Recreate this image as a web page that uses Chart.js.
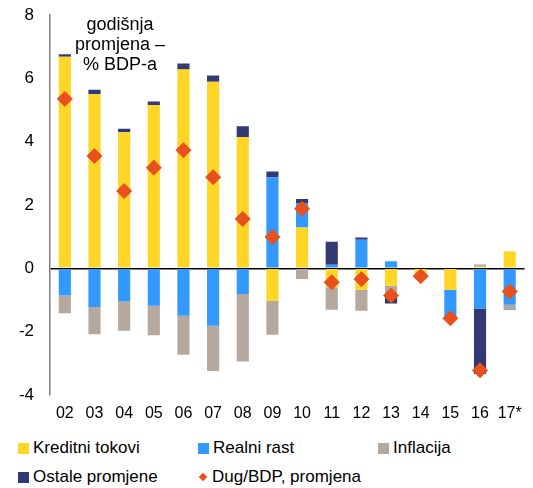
<!DOCTYPE html>
<html>
<head>
<meta charset="utf-8">
<script src="https://cdn.jsdelivr.net/npm/chart.js@4.4.1/dist/chart.umd.min.js"></script>
<style>
  body { margin: 0; background: #fff; font-family: "Liberation Sans", Arial, sans-serif; }
  #wrap { position: relative; width: 533px; height: 488px; }
  #chart { position: absolute; left: 0; top: 0; }
  #naslov { position: absolute; left: 50px; width: 140px; top: 14px; text-align: center;
            font-size: 18px; line-height: 20px; color: #000; }
  .leg { position: absolute; font-size: 17px; color: #000; white-space: nowrap; line-height: 20px; }
  .leg .sq { display: inline-block; width: 11px; height: 11px; margin-right: 4px; vertical-align: -1px; }
  .leg .dm { display: inline-block; width: 6px; height: 6px; margin: 0 6px 0 2px; background: #E8501C;
             transform: rotate(45deg); vertical-align: 2px; }
</style>
</head>
<body>
<div id="wrap">
  <canvas id="chart" width="533" height="432"></canvas>
  <div id="naslov">godišnja<br>promjena –<br>% BDP-a</div>
  <div id="legenda"></div>
</div>
<script>
// Podaci
const godine = ['02', '03', '04', '05', '06', '07', '08', '09', '10', '11', '12', '13', '14', '15', '16', '17*'];
const kreditniTokovi = [6.68, 5.50, 4.30, 5.16, 6.28, 5.89, 4.14, -1.02, 1.29, -0.60, -0.68, -0.55, -0.22, -0.68, 0.05, 0.54];
const realniRast = [-0.86, -1.22, -1.05, -1.18, -1.50, -1.81, -0.81, 2.88, 0.76, 0.11, 0.90, 0.22, 0, -0.92, -1.27, -1.15];
const inflacija = [-0.56, -0.86, -0.92, -0.93, -1.23, -1.43, -2.13, -1.08, -0.34, -0.71, -0.66, -0.31, 0, 0, 0.07, -0.14];
const ostalePromjene = [0.08, 0.14, 0.11, 0.11, 0.19, 0.20, 0.35, 0.18, 0.14, 0.73, 0.07, -0.25, 0.03, 0, -2.07, -0.02];
const dugBdp = [5.35, 3.55, 2.44, 3.18, 3.73, 2.88, 1.56, 0.99, 1.88, -0.44, -0.34, -0.86, -0.25, -1.58, -3.22, -0.73];
const yTicks = [-4, -2, 0, 2, 4, 6, 8];

const boje = {
    kreditni: '#FFD625',
    realni: '#3399FF',
    inflacija: '#B5A89F',
    ostale: '#333A73',
    dug: '#E8501C'
};

function barSet(label, data, color) {
    return {
        type: 'bar',
        label: label,
        data: data,
        backgroundColor: color,
        borderWidth: 0,
        barPercentage: 0.41,
        categoryPercentage: 1,
        stack: 'komponente',
        order: 1
    };
}

const ctx = document.getElementById('chart').getContext('2d');
const chart = new Chart(ctx, {
    data: {
        labels: godine,
        datasets: [
            barSet('Kreditni tokovi', kreditniTokovi, boje.kreditni),
            barSet('Realni rast', realniRast, boje.realni),
            barSet('Inflacija', inflacija, boje.inflacija),
            barSet('Ostale promjene', ostalePromjene, boje.ostale),
            {
                type: 'line',
                label: 'Dug/BDP, promjena',
                data: dugBdp,
                showLine: false,
                pointStyle: 'rectRot',
                pointRadius: 7.5,
                pointBackgroundColor: boje.dug,
                pointBorderColor: boje.dug,
                pointBorderWidth: 1,
                stack: 'dug',
                order: 0
            }
        ]
    },
    options: {
        responsive: false,
        animation: false,
        layout: { padding: { left: 0, right: 4, top: 15, bottom: 0 } },
        plugins: { legend: { display: false }, tooltip: { enabled: false } },
        scales: {
            x: {
                stacked: true,
                grid: { display: false, drawTicks: false },
                border: { display: false },
                ticks: { color: '#000', font: { family: 'Liberation Sans', size: 16 }, padding: 9,
                         maxRotation: 0, autoSkip: false },
                afterFit: scale => { scale.height = 37; }
            },
            y: {
                stacked: true,
                min: -4,
                max: 8,
                z: 1,
                afterBuildTicks: scale => { scale.ticks = yTicks.map(v => ({ value: v })); },
                grid: {
                    drawTicks: false,
                    color: c => (c.tick && c.tick.value === 0 ? '#000' : 'rgba(0,0,0,0)'),
                    lineWidth: 1.5
                },
                border: { display: true, color: '#7f7f7f', width: 1.5 },
                ticks: { color: '#000', font: { family: 'Liberation Sans', size: 17 }, padding: 16 },
                afterFit: scale => {
                    scale.width = 50;
                    scale.paddingTop = 0;
                    scale.paddingBottom = 0;
                }
            }
        }
    }
});

// Legenda
const stavke = [
    { tekst: 'Kreditni tokovi', boja: boje.kreditni, x: 18, y: 438 },
    { tekst: 'Realni rast', boja: boje.realni, x: 198, y: 438 },
    { tekst: 'Inflacija', boja: boje.inflacija, x: 378, y: 438 },
    { tekst: 'Ostale promjene', boja: boje.ostale, x: 18, y: 467 },
    { tekst: 'Dug/BDP, promjena', boja: boje.dug, x: 198, y: 467, romb: true }
];
const legenda = document.getElementById('legenda');
stavke.forEach(s => {
    const el = document.createElement('div');
    el.className = 'leg';
    el.style.left = s.x + 'px';
    el.style.top = s.y + 'px';
    el.innerHTML = s.romb
        ? `<span class="dm"></span>${s.tekst}`
        : `<span class="sq" style="background:${s.boja}"></span>${s.tekst}`;
    legenda.appendChild(el);
});
</script>
</body>
</html>
